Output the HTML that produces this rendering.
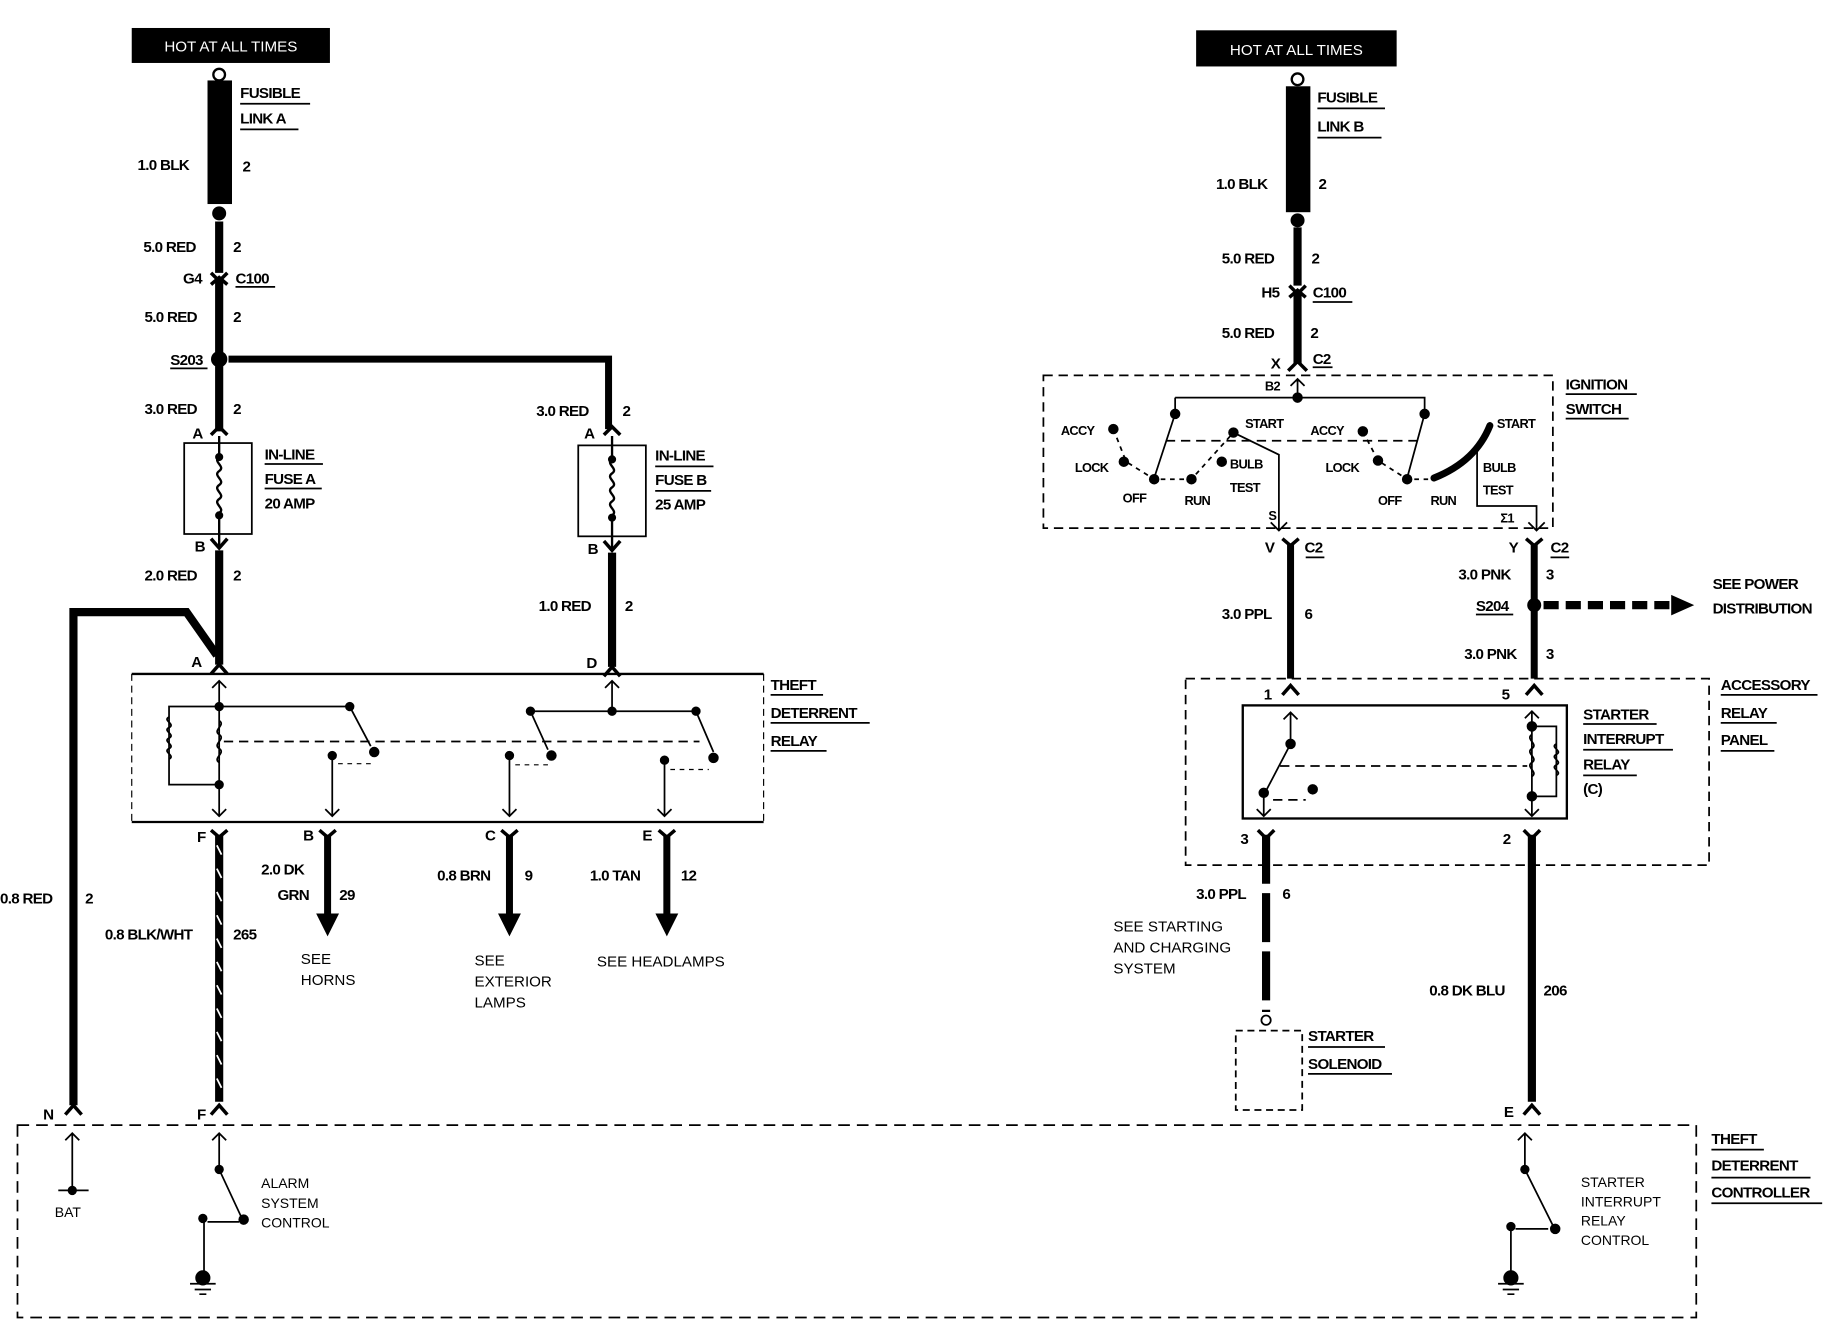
<!DOCTYPE html>
<html><head><meta charset="utf-8"><style>
html,body{margin:0;padding:0;background:#fff}
svg{display:block}
text{font-family:"Liberation Sans",sans-serif;font-weight:bold;font-size:13px;fill:#000;letter-spacing:-0.6px}
.n{font-weight:normal;letter-spacing:0}
</style></head><body>
<svg width="1828" height="1328" viewBox="0 0 1568 1139" preserveAspectRatio="none" xmlns="http://www.w3.org/2000/svg">
<rect width="1568" height="1139" fill="#fff"/>
<g stroke="#000" fill="none">

<!-- ============ LEFT ============ -->
<rect x="113" y="24" width="170" height="30" fill="#000" stroke="none"/>
<circle cx="188" cy="64" r="5" stroke-width="2"/>
<rect x="178" y="69" width="21" height="106" fill="#000" stroke="none"/>
<circle cx="188" cy="183" r="6" fill="#000" stroke="none"/>
<line x1="188" y1="190" x2="188" y2="234" stroke-width="7"/>
<path d="M181 234 L188 241 L195 234" stroke-width="3"/>
<path d="M181 244 L188 238 L195 244" stroke-width="3"/>
<line x1="188" y1="241" x2="188" y2="302" stroke-width="7"/>
<circle cx="188" cy="308" r="7" fill="#000" stroke="none"/>
<path d="M196 308 H522 V368" stroke-width="6"/>
<line x1="188" y1="314" x2="188" y2="370" stroke-width="7"/>
<!-- fuse A -->
<path d="M181 373 L188 366 L195 373" stroke-width="3"/>
<rect x="158" y="380" width="58" height="78" stroke-width="1.5"/>
<path d="M188 374 V392 M188 392 c-6 4 6 8 0 12 c-6 4 6 8 0 12 c-6 4 6 8 0 12 c-6 4 6 8 0 12 V470" stroke-width="2"/>
<circle cx="188" cy="392" r="3" fill="#000"/><circle cx="188" cy="442" r="3" fill="#000"/>
<path d="M181 462 L188 470 L195 462" stroke-width="3"/>
<line x1="188" y1="472" x2="188" y2="570" stroke-width="7"/>
<!-- fuse B -->
<path d="M518 373 L525 366 L532 373" stroke-width="3"/>
<rect x="496" y="382" width="58" height="78" stroke-width="1.5"/>
<path d="M525 374 V394 c-6 4 6 8 0 12 c-6 4 6 8 0 12 c-6 4 6 8 0 12 c-6 4 6 8 0 12 V472" stroke-width="2"/>
<circle cx="525" cy="394" r="3" fill="#000"/><circle cx="525" cy="444" r="3" fill="#000"/>
<path d="M518 464 L525 472 L532 464" stroke-width="3"/>
<line x1="525" y1="474" x2="525" y2="572" stroke-width="7"/>
<!-- 0.8 red -->
<path d="M63 948 V525 H160 L186 562" stroke-width="7"/>
<!-- connectors A, D -->
<path d="M181 578 L188 570 L195 578" stroke-width="3"/>
<path d="M518 580 L525 572 L532 580" stroke-width="3"/>
<!-- theft relay -->
<line x1="113" y1="578" x2="655" y2="578" stroke-width="2"/>
<line x1="113" y1="705" x2="655" y2="705" stroke-width="2"/>
<line x1="113" y1="578" x2="113" y2="705" stroke-width="1" stroke-dasharray="6 4"/>
<line x1="655" y1="578" x2="655" y2="705" stroke-width="1" stroke-dasharray="6 4"/>
<path d="M182 590 L188 584 L194 590" stroke-width="1.5"/>
<path d="M188 584 V700" stroke-width="1.5"/>
<path d="M188 606 H300 L318 640 M188 673 H145 V606 H188" stroke-width="1.5"/>
<path d="M145 615 c-6 3 6 6 0 9 c-6 3 6 6 0 9 c-6 3 6 6 0 9 c-6 3 6 6 0 9 M188 618 c6 4 -6 8 0 12 c6 4 -6 8 0 12 c6 4 -6 8 0 12" stroke-width="1.5"/>
<circle cx="188" cy="606" r="3.5" fill="#000"/><circle cx="188" cy="673" r="3.5" fill="#000"/><circle cx="300" cy="606" r="3.5" fill="#000"/>
<circle cx="321" cy="645" r="4" fill="#000"/><circle cx="285" cy="648" r="3.5" fill="#000"/>
<path d="M192 636 H600" stroke-width="1.5" stroke-dasharray="8 5"/>
<path d="M290 655 H318" stroke-dasharray="4 4"/>
<path d="M182 694 L188 700 L194 694" stroke-width="1.5"/>
<path d="M285 648 V700 M279 694 L285 700 L291 694" stroke-width="1.5"/>
<path d="M525 585 V610 M519 590 L525 584 L531 590" stroke-width="1.5"/>
<path d="M455 610 H597 L612 645 M455 610 L470 643" stroke-width="1.5"/>
<circle cx="455" cy="610" r="3.5" fill="#000"/><circle cx="525" cy="610" r="3.5" fill="#000"/><circle cx="597" cy="610" r="3.5" fill="#000"/>
<circle cx="473" cy="648" r="4" fill="#000"/><circle cx="612" cy="650" r="4" fill="#000"/>
<circle cx="437" cy="648" r="3.5" fill="#000"/><circle cx="570" cy="652" r="3.5" fill="#000"/>
<path d="M442 656 H470 M575 660 H608" stroke-dasharray="4 4"/>
<path d="M437 648 V700 M431 694 L437 700 L443 694 M570 652 V700 M564 694 L570 700 L576 694" stroke-width="1.5"/>
<!-- outputs -->
<path d="M181 712 L188 718 L195 712 M274 712 L281 718 L288 712 M430 712 L437 718 L444 712 M565 712 L572 718 L579 712" stroke-width="3"/>
<line x1="188" y1="716" x2="188" y2="945" stroke-width="7"/>
<path d="M186 725 l4 8 M186 745 l4 8 M186 765 l4 8 M186 785 l4 8 M186 805 l4 8 M186 825 l4 8 M186 845 l4 8 M186 865 l4 8 M186 885 l4 8 M186 905 l4 8 M186 925 l4 8" stroke="#fff" stroke-width="1.5"/>
<line x1="281" y1="716" x2="281" y2="785" stroke-width="6"/>
<path d="M272 784 L281 802 L290 784 Z" fill="#000"/>
<line x1="437" y1="716" x2="437" y2="785" stroke-width="6"/>
<path d="M428 784 L437 802 L446 784 Z" fill="#000"/>
<line x1="572" y1="716" x2="572" y2="785" stroke-width="6"/>
<path d="M563 784 L572 802 L581 784 Z" fill="#000"/>
<!-- controller -->
<path d="M56 956 L63 948 L70 956 M181 956 L188 948 L195 956" stroke-width="3"/>
<rect x="15" y="965" width="1440" height="165" stroke-width="1.5" stroke-dasharray="10 6"/>
<path d="M56 978 L62 972 L68 978 M62 972 V1020 M50 1021 H76" stroke-width="1.5"/>
<circle cx="62" cy="1021" r="3.5" fill="#000"/>
<path d="M182 978 L188 972 L194 978 M188 972 V1003 L208 1046 M175 1045 V1090 M178 1048 H205" stroke-width="1.5"/>
<path d="M178 1048 H205" stroke-dasharray="5 4"/>
<circle cx="188" cy="1003" r="3.5" fill="#000"/><circle cx="209" cy="1046" r="4" fill="#000"/><circle cx="174" cy="1045" r="3.5" fill="#000"/>
<circle cx="174" cy="1096" r="6" fill="#000"/>
<path d="M163 1101 H185 M167 1106 H181 M171 1110 H177" stroke-width="1.5"/>

<!-- ============ RIGHT ============ -->
<rect x="1026" y="26" width="172" height="31" fill="#000" stroke="none"/>
<circle cx="1113" cy="68" r="5" stroke-width="2"/>
<rect x="1103" y="74" width="21" height="108" fill="#000" stroke="none"/>
<circle cx="1113" cy="189" r="6" fill="#000" stroke="none"/>
<line x1="1113" y1="195" x2="1113" y2="245" stroke-width="7"/>
<path d="M1106 245 L1113 252 L1120 245" stroke-width="3"/>
<path d="M1106 255 L1113 249 L1120 255" stroke-width="3"/>
<line x1="1113" y1="252" x2="1113" y2="312" stroke-width="7"/>
<path d="M1105 318 L1113 310 L1121 318" stroke-width="3"/>
<!-- ignition switch -->
<rect x="895" y="322" width="437" height="131" stroke-width="1.5" stroke-dasharray="8 5"/>
<path d="M1107 331 L1113 325 L1119 331 M1113 325 V341 M1008 341 H1222 V355 M1008 341 V355 L990 410 M1222 355 L1207 410" stroke-width="1.5"/>
<circle cx="1113" cy="341" r="4" fill="#000"/><circle cx="1008" cy="355" r="4" fill="#000"/><circle cx="1222" cy="355" r="4" fill="#000"/>
<circle cx="955" cy="368" r="4" fill="#000"/><circle cx="964" cy="396" r="4" fill="#000"/><circle cx="990" cy="411" r="4" fill="#000"/>
<circle cx="1022" cy="411" r="4" fill="#000"/><circle cx="1048" cy="396" r="4" fill="#000"/><circle cx="1058" cy="371" r="4" fill="#000"/>
<circle cx="1169" cy="370" r="4" fill="#000"/><circle cx="1182" cy="395" r="4" fill="#000"/><circle cx="1207" cy="411" r="4" fill="#000"/>
<path d="M955 368 L966 396 L990 411 H1022 L1058 371 M1169 370 L1182 395 L1207 411 H1225" stroke-width="1.5" stroke-dasharray="4 4"/>
<path d="M1000 378 H1217" stroke-width="1.5" stroke-dasharray="8 5"/>
<path d="M1058 371 L1097 390 V455 M1090 448 L1097 455 L1104 448" stroke-width="1.5"/>
<path d="M1230 410 C1255 400 1270 385 1278 365" stroke-width="6" stroke-linecap="round"/>
<path d="M1267 385 V434 H1318 V455 M1311 448 L1318 455 L1325 448" stroke-width="1.5"/>
<!-- V / Y wires -->
<path d="M1100 462 L1107 468 L1114 462 M1309 462 L1316 468 L1323 462" stroke-width="3"/>
<line x1="1107" y1="466" x2="1107" y2="582" stroke-width="6"/>
<line x1="1316" y1="466" x2="1316" y2="582" stroke-width="6"/>
<circle cx="1316" cy="519" r="6" fill="#000" stroke="none"/>
<line x1="1324" y1="519" x2="1434" y2="519" stroke-width="7" stroke-dasharray="13 6"/>
<path d="M1434 511 L1452 519 L1434 527 Z" fill="#000"/>
<path d="M1100 596 L1107 588 L1114 596 M1309 596 L1316 588 L1323 596" stroke-width="3"/>
<!-- accessory relay panel -->
<rect x="1017" y="582" width="449" height="160" stroke-width="1.5" stroke-dasharray="8 5"/>
<rect x="1066" y="605" width="278" height="97" stroke-width="2"/>
<path d="M1101 617 L1107 611 L1113 617 M1107 611 V638 L1084 682 V700 M1078 694 L1084 700 L1090 694" stroke-width="1.5"/>
<circle cx="1107" cy="638" r="4" fill="#000"/><circle cx="1084" cy="680" r="4" fill="#000"/><circle cx="1126" cy="677" r="4" fill="#000"/>
<path d="M1098 657 H1310 M1092 686 H1120" stroke-width="1.5" stroke-dasharray="8 5"/>
<path d="M1308 616 L1314 610 L1320 616 M1314 610 V700 M1308 694 L1314 700 L1320 694 M1314 623 H1335 V683 H1314" stroke-width="1.5"/>
<path d="M1314 630 c-6 4 6 8 0 12 c-6 4 6 8 0 12 c-6 4 6 8 0 12 M1335 638 c-6 3 6 6 0 9 c-6 3 6 6 0 9 c-6 3 6 6 0 9" stroke-width="1.5"/>
<circle cx="1314" cy="623" r="4" fill="#000"/><circle cx="1314" cy="683" r="4" fill="#000"/>
<path d="M1079 712 L1086 719 L1093 712 M1307 712 L1314 719 L1321 712" stroke-width="3"/>
<line x1="1086" y1="716" x2="1086" y2="868" stroke-width="7" stroke-dasharray="42 8"/>
<circle cx="1086" cy="875" r="4" stroke-width="1.5"/>
<rect x="1060" y="884" width="57" height="68" stroke-width="1.5" stroke-dasharray="6 4"/>
<line x1="1314" y1="716" x2="1314" y2="945" stroke-width="7"/>
<path d="M1307 956 L1314 948 L1321 956" stroke-width="3"/>
<path d="M1302 978 L1308 972 L1314 978 M1308 972 V1003 L1333 1053 M1296 1052 V1090 M1300 1054 H1328" stroke-width="1.5"/>
<circle cx="1308" cy="1003" r="3.5" fill="#000"/><circle cx="1334" cy="1054" r="4" fill="#000"/><circle cx="1296" cy="1052" r="3.5" fill="#000"/>
<circle cx="1296" cy="1096" r="6" fill="#000"/>
<path d="M1285 1101 H1307 M1289 1106 H1303 M1293 1110 H1299" stroke-width="1.5"/>
<!-- underlines -->
<path d="M206 89 H266 M206 111 H256 M146 316 H178 M202 246 H236 M562 400 H612 M562 421 H610 M227 398 H277 M227 419 H276 M661 596 H706 M661 620 H746 M661 644 H709 M1130 93 H1188 M1130 118 H1185 M1126 259 H1160 M1126 315 H1143 M1343 338 H1404 M1343 359 H1397 M1266 527 H1298 M1358 621 H1421 M1358 643 H1435 M1358 665 H1404 M1476 596 H1559 M1476 620 H1524 M1476 644 H1522 M1122 898 H1188 M1122 921 H1194 M1468 986 H1513 M1468 1010 H1553 M1468 1032 H1563 M1120 478 H1136 M1330 478 H1346" stroke-width="1.5"/>
</g>

<!-- TEXT -->
<text x="198" y="44" text-anchor="middle" fill="#fff" class="n" style="fill:#fff;font-size:13px">HOT AT ALL TIMES</text>
<text x="1112" y="47" text-anchor="middle" class="n" style="fill:#fff;font-size:13px">HOT AT ALL TIMES</text>
<text x="206" y="84">FUSIBLE</text><text x="206" y="106">LINK A</text>
<text x="118" y="146">1.0 BLK</text><text x="208" y="147">2</text>
<text x="123" y="216">5.0 RED</text><text x="200" y="216">2</text>
<text x="157" y="243">G4</text><text x="202" y="243">C100</text>
<text x="124" y="276">5.0 RED</text><text x="200" y="276">2</text>
<text x="146" y="313">S203</text>
<text x="124" y="355">3.0 RED</text><text x="200" y="355">2</text>
<text x="460" y="357">3.0 RED</text><text x="534" y="357">2</text>
<text x="165" y="376">A</text><text x="501" y="376">A</text>
<text x="227" y="394">IN-LINE</text><text x="227" y="415">FUSE A</text><text x="227" y="436">20 AMP</text>
<text x="562" y="395">IN-LINE</text><text x="562" y="416">FUSE B</text><text x="562" y="437">25 AMP</text>
<text x="167" y="473">B</text><text x="504" y="475">B</text>
<text x="124" y="498">2.0 RED</text><text x="200" y="498">2</text>
<text x="462" y="524">1.0 RED</text><text x="536" y="524">2</text>
<text x="164" y="572">A</text><text x="503" y="573">D</text>
<text x="661" y="592">THEFT</text><text x="661" y="616">DETERRENT</text><text x="661" y="640">RELAY</text>
<text x="169" y="722">F</text><text x="260" y="721">B</text><text x="416" y="721">C</text><text x="551" y="721">E</text>
<text x="224" y="750">2.0 DK</text><text x="238" y="772">GRN</text><text x="291" y="772">29</text>
<text x="375" y="755">0.8 BRN</text><text x="450" y="755">9</text>
<text x="506" y="755">1.0 TAN</text><text x="584" y="755">12</text>
<text x="0" y="775">0.8 RED</text><text x="73" y="775">2</text>
<text x="90" y="806">0.8 BLK/WHT</text><text x="200" y="806">265</text>
<text x="258" y="827" class="n">SEE</text><text x="258" y="845" class="n">HORNS</text>
<text x="407" y="828" class="n">SEE</text><text x="407" y="846" class="n">EXTERIOR</text><text x="407" y="864" class="n">LAMPS</text>
<text x="512" y="829" class="n">SEE HEADLAMPS</text>
<text x="37" y="960">N</text><text x="169" y="960">F</text>
<text x="47" y="1044" class="n" style="font-size:12px">BAT</text>
<text x="224" y="1019" class="n" style="font-size:12px">ALARM</text><text x="224" y="1036" class="n" style="font-size:12px">SYSTEM</text><text x="224" y="1053" class="n" style="font-size:12px">CONTROL</text>

<text x="1130" y="88">FUSIBLE</text><text x="1130" y="113">LINK B</text>
<text x="1043" y="162">1.0 BLK</text><text x="1131" y="162">2</text>
<text x="1048" y="226">5.0 RED</text><text x="1125" y="226">2</text>
<text x="1082" y="255">H5</text><text x="1126" y="255">C100</text>
<text x="1048" y="290">5.0 RED</text><text x="1124" y="290">2</text>
<text x="1090" y="316">X</text><text x="1126" y="312">C2</text>
<text x="1085" y="335" style="font-size:11px">B2</text>
<text x="1343" y="334">IGNITION</text><text x="1343" y="355">SWITCH</text>
<text x="910" y="373" style="font-size:11px">ACCY</text><text x="922" y="405" style="font-size:11px">LOCK</text>
<text x="963" y="431" style="font-size:11px">OFF</text><text x="1016" y="433" style="font-size:11px">RUN</text>
<text x="1068" y="367" style="font-size:11px">START</text><text x="1055" y="402" style="font-size:11px">BULB</text><text x="1055" y="422" style="font-size:11px">TEST</text>
<text x="1124" y="373" style="font-size:11px">ACCY</text><text x="1137" y="405" style="font-size:11px">LOCK</text>
<text x="1182" y="433" style="font-size:11px">OFF</text><text x="1227" y="433" style="font-size:11px">RUN</text>
<text x="1284" y="367" style="font-size:11px">START</text><text x="1272" y="405" style="font-size:11px">BULB</text><text x="1272" y="424" style="font-size:11px">TEST</text>
<text x="1088" y="446" style="font-size:11px">S</text><text x="1287" y="448" style="font-size:11px">Σ1</text>
<text x="1085" y="474">V</text><text x="1119" y="474">C2</text>
<text x="1294" y="474">Y</text><text x="1330" y="474">C2</text>
<text x="1251" y="497">3.0 PNK</text><text x="1326" y="497">3</text>
<text x="1266" y="524">S204</text>
<text x="1469" y="505">SEE POWER</text><text x="1469" y="526">DISTRIBUTION</text>
<text x="1048" y="531">3.0 PPL</text><text x="1119" y="531">6</text>
<text x="1256" y="565">3.0 PNK</text><text x="1326" y="565">3</text>
<text x="1084" y="600">1</text><text x="1288" y="600">5</text>
<text x="1476" y="592">ACCESSORY</text><text x="1476" y="616">RELAY</text><text x="1476" y="639">PANEL</text>
<text x="1358" y="617">STARTER</text><text x="1358" y="638">INTERRUPT</text><text x="1358" y="660">RELAY</text><text x="1358" y="681">(C)</text>
<text x="1064" y="724">3</text><text x="1289" y="724">2</text>
<text x="1026" y="771">3.0 PPL</text><text x="1100" y="771">6</text>
<text x="955" y="799" class="n">SEE STARTING</text><text x="955" y="817" class="n">AND CHARGING</text><text x="955" y="835" class="n">SYSTEM</text>
<text x="1226" y="854">0.8 DK BLU</text><text x="1324" y="854">206</text>
<text x="1122" y="893">STARTER</text><text x="1122" y="917">SOLENOID</text>
<text x="1290" y="958">E</text>
<text x="1468" y="981">THEFT</text><text x="1468" y="1004">DETERRENT</text><text x="1468" y="1027">CONTROLLER</text>
<text x="1356" y="1018" class="n" style="font-size:12px">STARTER</text><text x="1356" y="1035" class="n" style="font-size:12px">INTERRUPT</text><text x="1356" y="1051" class="n" style="font-size:12px">RELAY</text><text x="1356" y="1068" class="n" style="font-size:12px">CONTROL</text>
</svg>
</body></html>
